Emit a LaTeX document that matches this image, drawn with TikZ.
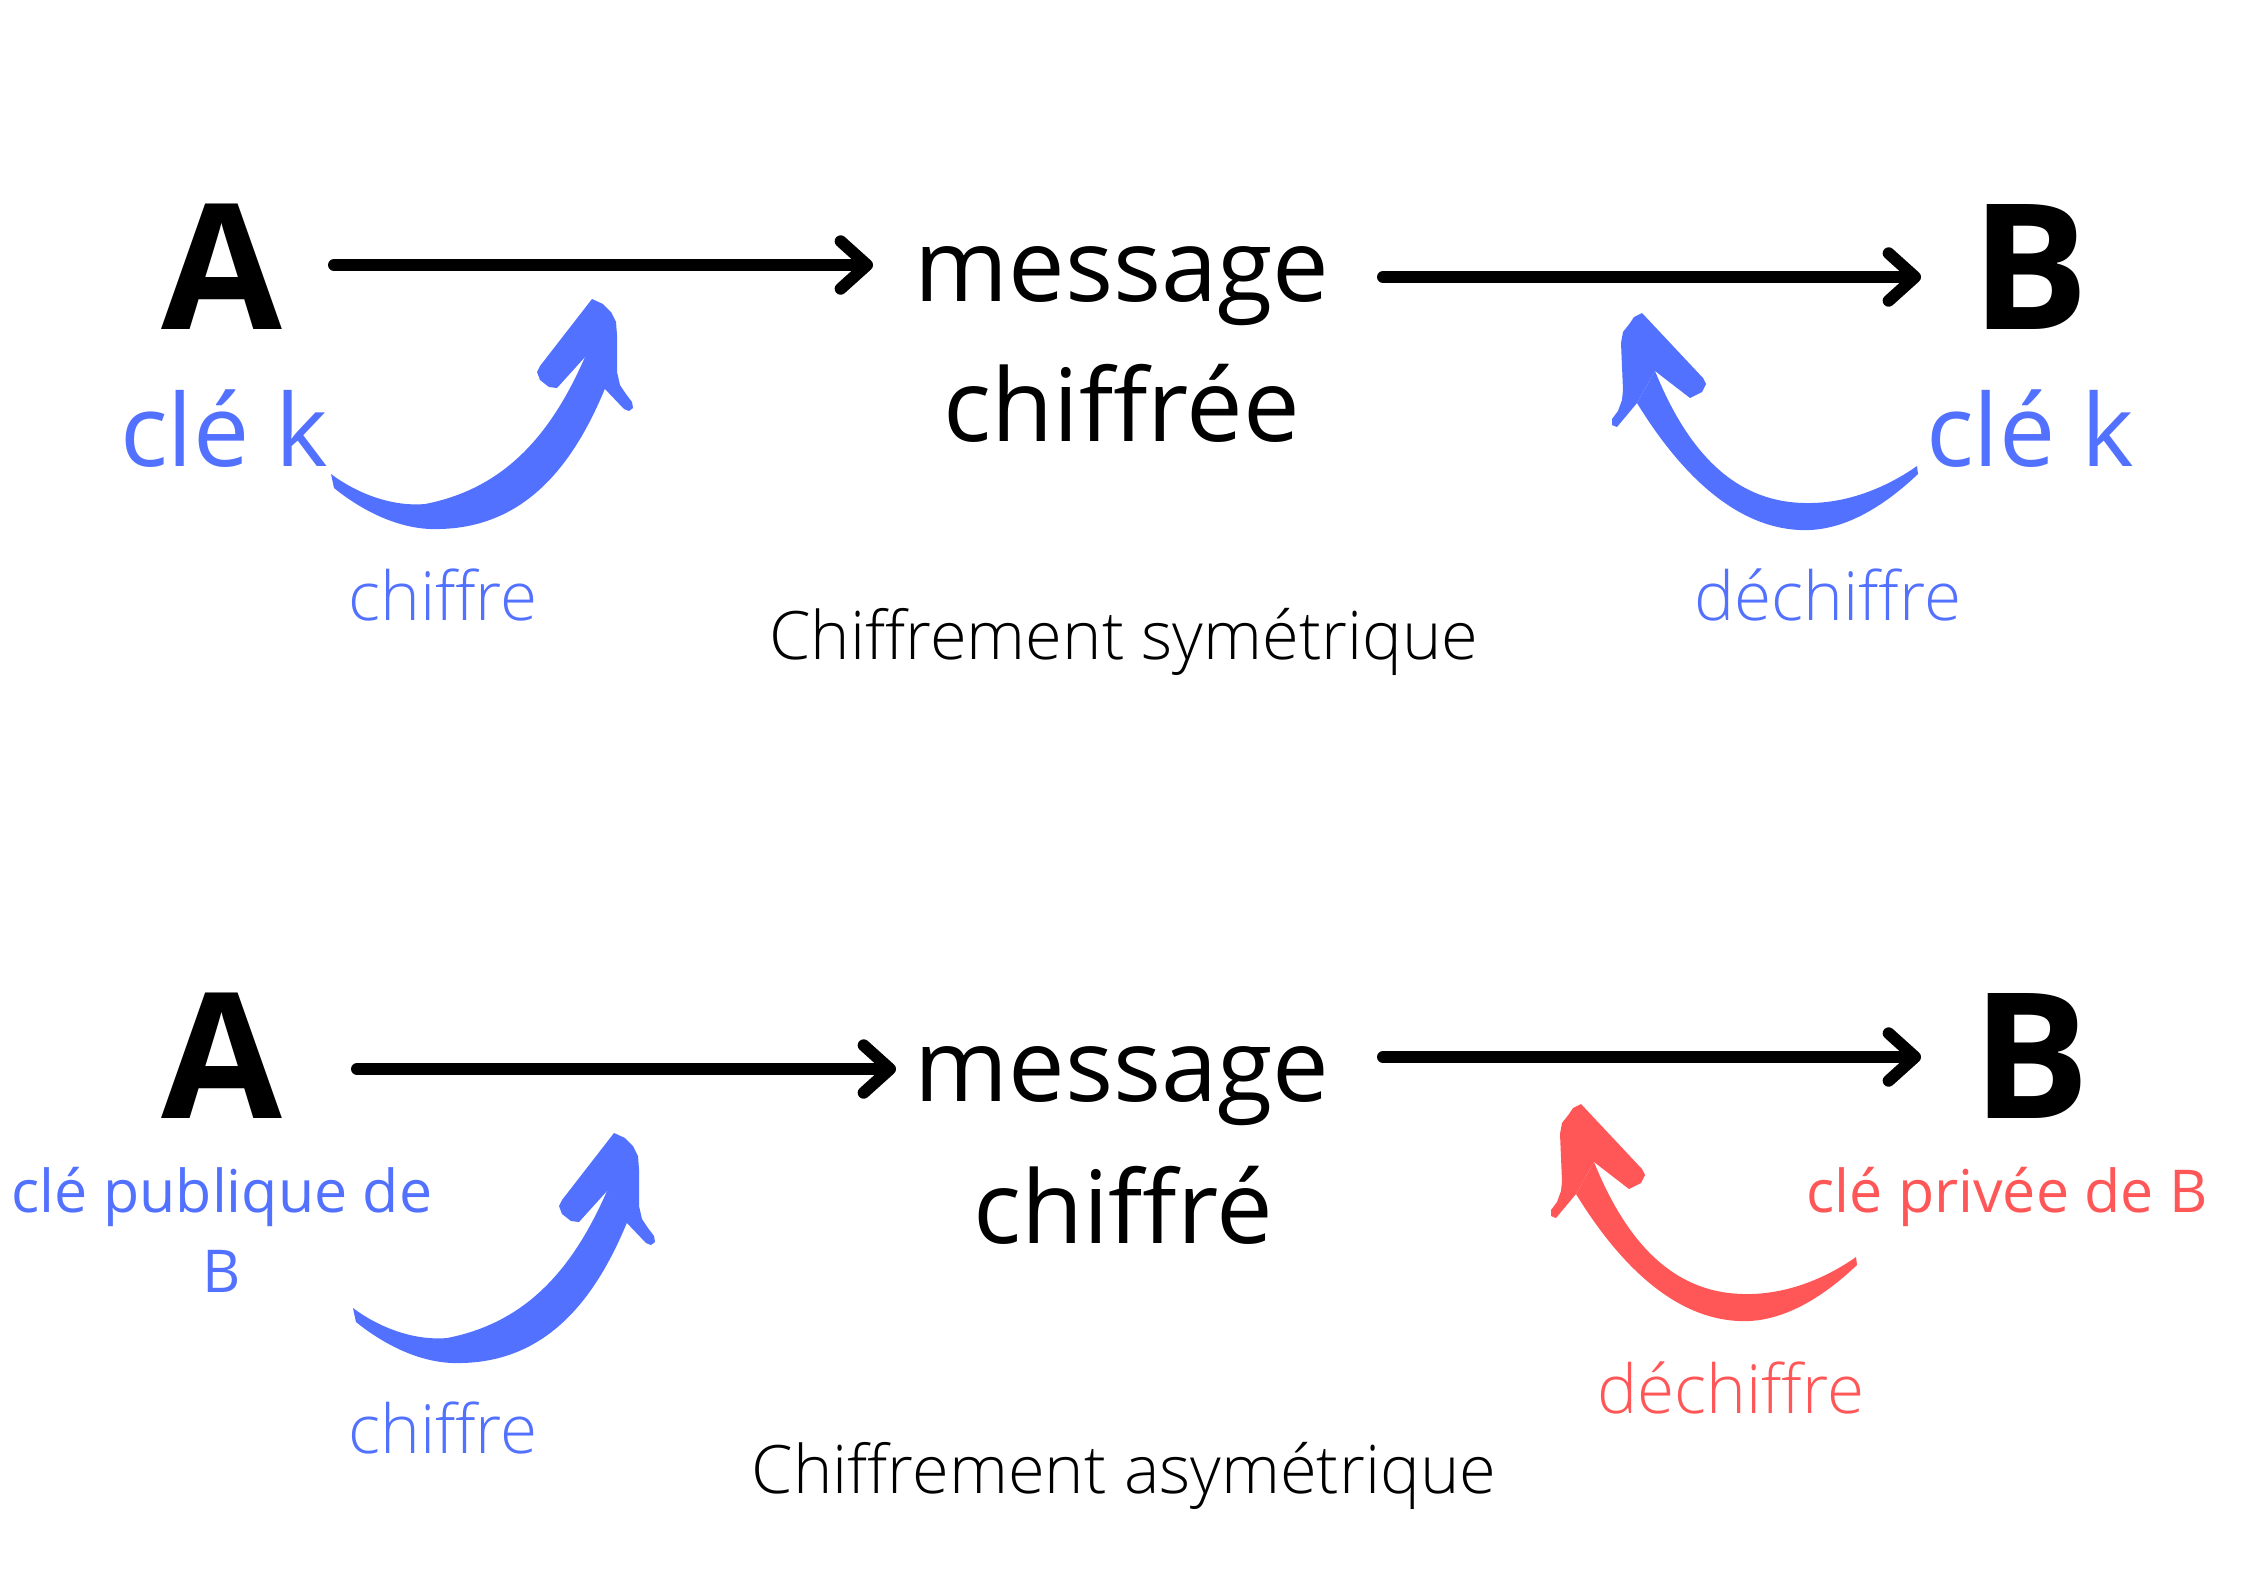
\documentclass[tikz,border=0pt]{standalone}
\usepackage{fontspec}
\usetikzlibrary{arrows.meta}
\setmainfont{Open Sans}
\IfFontExistsTF{Open Sans Light}{\newfontfamily\lightf{Open Sans Light}}{\newfontfamily\lightf{Open Sans}}
\IfFontExistsTF{Open Sans ExtraBold}{\newfontfamily\heavyf{Open Sans ExtraBold}}{\newcommand\heavyf{\bfseries}}
\newcommand\myfs[1]{\fontsize{#1pt}{#1pt}\selectfont}
\definecolor{cblue}{HTML}{5271FF}
\definecolor{cred}{HTML}{FF5757}
\newcommand\leftcurl[1]{%
  \fill[#1] (331,474) -- (334,488) .. controls (355,505) and (395,531) .. (440,529)
    .. controls (522,527) and (572,470) .. (606,386)
    -- (585,357)
    .. controls (553,430) and (508,488) .. (425,504)
    .. controls (390,507) and (355,492) .. (331,474) -- cycle;
  \fill[#1] (592,299) -- (603,304) -- (611,312) -- (616,322) -- (617,335) -- (617,372)
    -- (620,385) -- (626,394) -- (632,402) -- (633,408) -- (629,411) -- (624,409)
    -- (604,388) -- (585,357) -- (557,388) -- (549,387) -- (540,380) -- (537,372)
    -- (540,366) -- cycle;}
\newcommand\rightcurl[1]{%
  \fill[#1] (1917,466) -- (1918,474) .. controls (1880,510) and (1840,532) .. (1800,530)
    .. controls (1730,527) and (1675,465) .. (1637,403)
    -- (1655,371)
    .. controls (1685,445) and (1730,502) .. (1805,503)
    .. controls (1850,504) and (1890,485) .. (1917,466) -- cycle;
  \fill[#1] (1642,313) -- (1703,378) -- (1706,384) -- (1702,392) -- (1690,398)
    -- (1655,371) -- (1637,403) -- (1617,427) -- (1612,425) -- (1612,419)
    -- (1618,411) -- (1622,400) -- (1623,390) -- (1621,343) -- (1623,332)
    -- (1630,323) -- (1634,317) -- cycle;}
\begin{document}
\begin{tikzpicture}[x=0.01cm,y=-0.01cm,
  lbl/.style={inner sep=0pt, outer sep=0pt, anchor=base},
  big/.style={lbl, font=\heavyf\myfs{49.8}},
  msgf/.style={lbl, font=\myfs{28.7}},
  keyf/.style={lbl, font=\myfs{28.5}, text=cblue},
  actf/.style={lbl, font=\lightf\myfs{19.2}},
  titf/.style={lbl, font=\lightf\myfs{19.0}},
  smallkey/.style={lbl, font=\myfs{16.8}},
  bigarr/.style={line width=3.4pt, line cap=round, -{Straight Barb[length=7.5pt,width=13.5pt,round]}},
  ]
\useasboundingbox (0,0) rectangle (2245,1587);
\fill[white] (0,0) rectangle (2245,1587);

% ---- symmetric ----
\node[big] (A1) at (222,329) {A};
\node[big] (B1) at (2030,329) {B};
\node[msgf] (M1) at (1122,301) {message};
\node[msgf] (C1) at (1122,441) {chiffrée};
\node[keyf] (K1) at (224,466) {clé k};
\node[keyf] (K2) at (2030,466) {clé k};
\node[actf, text=cblue] (E1) at (443,620) {chiffre};
\node[actf, text=cblue] (D1) at (1828,620) {déchiffre};
\node[titf] (T1) at (1124,659) {Chiffrement symétrique};

\draw[bigarr] ([shift={(112,-64)}]A1.base) -- ([shift={(-249,-36)}]M1.base);
\draw[bigarr] ([shift={(261,-24)}]M1.base) -- ([shift={(-109,-52)}]B1.base);

\leftcurl{cblue}
\rightcurl{cblue}

% ---- asymmetric ----
\node[big] (A2) at (222,1118) {A};
\node[big] (B2) at (2031,1118) {B};
\node[msgf] (M2) at (1122,1101) {message};
\node[msgf] (C2) at (1123,1243) {chiffré};
\node[smallkey, text=cblue] (P1) at (222,1212) {clé publique de};
\node[smallkey, text=cblue] (P2) at (222,1292) {B};
\node[smallkey, text=cred] (R1) at (2007,1212) {clé privée de B};
\node[actf, text=cblue] (E2) at (443,1453) {chiffre};
\node[actf, text=cred] (D2) at (1731,1413) {déchiffre};
\node[titf] (T2) at (1124,1493) {Chiffrement asymétrique};

\draw[bigarr] ([shift={(135,-49)}]A2.base) -- ([shift={(-226,-32)}]M2.base);
\draw[bigarr] ([shift={(261,-44)}]M2.base) -- ([shift={(-110,-61)}]B2.base);

\begin{scope}[shift={(22,834)}]
  \leftcurl{cblue}
\end{scope}
\begin{scope}[shift={(-61,791)}]
  \rightcurl{cred}
\end{scope}
\end{tikzpicture}
\end{document}
